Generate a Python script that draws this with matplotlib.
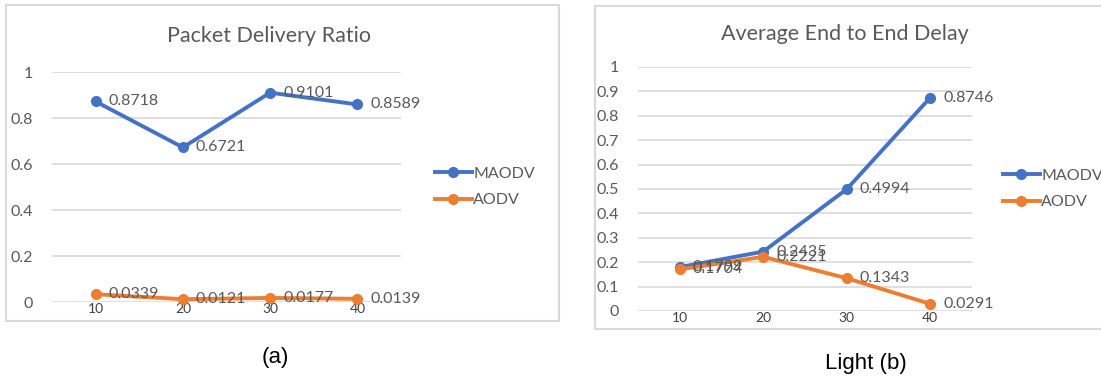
import matplotlib.pyplot as plt
from matplotlib.patches import Rectangle

# node counts on the x axis
nodes = ['10', '20', '30', '40']

# packet delivery ratio
pdr_maodv = [0.8718, 0.6721, 0.9101, 0.8589]
pdr_aodv = [0.0339, 0.0121, 0.0177, 0.0139]

# average end to end delay
delay_maodv = [0.1799, 0.2435, 0.4994, 0.8746]
delay_aodv = [0.1704, 0.2221, 0.1343, 0.0291]

BLUE = '#4472C4'
ORANGE = '#ED7D31'
GRID = '#D9D9D9'
TEXT = '#595959'

W, H = 1101, 379
fig = plt.figure(figsize=(W / 100, H / 100), dpi=100)
plt.rcParams['font.family'] = ['Lato', 'DejaVu Sans']


def px_axes(x0, y0, x1, y1):
    # axes placed by pixel corners (top-left origin)
    return fig.add_axes([x0 / W, 1 - y1 / H, (x1 - x0) / W, (y1 - y0) / H])


def px_box(x0, y0, x1, y1):
    fig.patches.append(Rectangle((x0 / W, 1 - y1 / H), (x1 - x0) / W, (y1 - y0) / H,
                                 transform=fig.transFigure, fill=False,
                                 edgecolor=GRID, linewidth=1.5))


def draw_chart(ax, title, title_xy, maodv, aodv, yticks, leg_xy):
    x = range(len(nodes))
    ax.plot(x, maodv, color=BLUE, lw=2.8, marker='o', ms=7, label='MAODV', clip_on=False, zorder=3)
    ax.plot(x, aodv, color=ORANGE, lw=2.8, marker='o', ms=7, label='AODV', clip_on=False, zorder=4)
    for series in (maodv, aodv):
        for i, v in enumerate(series):
            ax.annotate(f'{v:.4f}', (i, v), xytext=(13, 0), textcoords='offset pixels',
                        ha='left', va='center', fontsize=11.5, color=TEXT, zorder=5)
    ax.set_xlim(-0.5, len(nodes) - 0.5)
    ax.set_ylim(0, 1)
    ax.set_xticks(list(x))
    ax.set_xticklabels(nodes, fontsize=10, color='#404040')
    ax.set_yticks(yticks)
    ax.set_yticklabels([f'{t:g}' for t in yticks], fontsize=11.5, color=TEXT)
    ax.tick_params(axis='y', length=0, pad=14)
    ax.tick_params(axis='x', length=0, pad=1)
    ax.grid(axis='y', color=GRID, lw=1.2)
    ax.set_axisbelow(True)
    for s in ax.spines.values():
        s.set_visible(False)
    fig.text(title_xy[0] / W, 1 - title_xy[1] / H, title, ha='center', va='center',
             fontsize=15.5, color=TEXT)
    ax.legend(loc='center left', bbox_to_anchor=(leg_xy[0] / W, 1 - leg_xy[1] / H),
              bbox_transform=fig.transFigure, frameon=False, fontsize=11.5,
              handlelength=2.3, handletextpad=0.1, labelspacing=0.75, borderpad=0,
              labelcolor=TEXT)


# left panel
px_box(6, 5, 559, 321)
ax1 = px_axes(52, 72, 401, 302)
draw_chart(ax1, 'Packet Delivery Ratio', (269, 36), pdr_maodv, pdr_aodv,
           [0, 0.2, 0.4, 0.6, 0.8, 1], (427, 187))
fig.text(275 / W, 1 - 358 / H, '(a)', ha='center', va='center', fontsize=16,
         family='Liberation Sans', color='black')

# right panel
px_box(595, 6, 1102, 329)
ax2 = px_axes(638, 67, 972, 311)
draw_chart(ax2, 'Average End to End Delay', (845, 34), delay_maodv, delay_aodv,
           [round(0.1 * k, 1) for k in range(11)], (995, 189))
fig.text(866 / W, 1 - 363 / H, 'Light (b)', ha='center', va='center', fontsize=16,
         family='Liberation Sans', color='black')

fig.savefig('out.png', dpi=100, facecolor='white')
